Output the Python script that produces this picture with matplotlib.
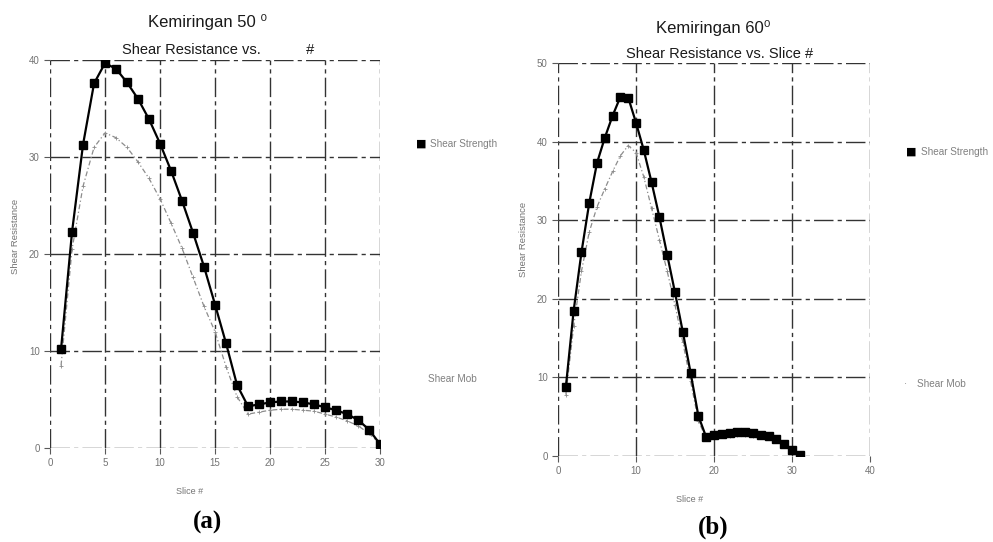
import matplotlib
matplotlib.use("Agg")
import matplotlib.pyplot as plt
import numpy as np

# Slope 50 degrees
slices_a = list(range(1, 31))
strength_a = [10.2, 22.3, 31.3, 37.6, 39.7, 39.1, 37.7, 36.0, 33.9, 31.4,
              28.6, 25.5, 22.2, 18.7, 14.8, 10.8, 6.5, 4.3, 4.5, 4.7,
              4.8, 4.8, 4.7, 4.5, 4.2, 3.9, 3.5, 2.9, 1.9, 0.4]
mob_a = [8.5, 20.5, 27.0, 31.0, 32.5, 32.0, 31.0, 29.5, 27.8, 25.7,
         23.2, 20.6, 17.6, 14.6, 12.0, 8.4, 5.3, 3.5, 3.7, 3.9,
         4.0, 4.0, 3.9, 3.8, 3.5, 3.2, 2.8, 2.3, 1.5, 0.4]

# Slope 60 degrees
slices_b = list(range(1, 32))
strength_b = [8.8, 18.5, 25.9, 32.2, 37.3, 40.5, 43.3, 45.7, 45.6, 42.4,
              38.9, 34.8, 30.4, 25.6, 20.8, 15.8, 10.6, 5.1, 2.4, 2.7,
              2.8, 2.9, 3.0, 3.0, 2.9, 2.7, 2.5, 2.1, 1.5, 0.8, 0.1]
mob_b = [7.8, 16.5, 23.5, 28.5, 31.7, 34.0, 36.2, 38.2, 39.5, 38.6,
         35.5, 31.5, 27.5, 23.5, 19.2, 14.5, 9.5, 4.5, 2.2, 2.4,
         2.5, 2.6, 2.7, 2.7, 2.6, 2.5, 2.3, 1.9, 1.4, 0.7, 0.1]

xticks_a = [0, 5, 10, 15, 20, 25, 30]
yticks_a = [0, 10, 20, 30, 40]
xticks_b = [0, 10, 20, 30, 40]
yticks_b = [0, 10, 20, 30, 40, 50]

plt.rcParams["font.family"] = ["Liberation Sans", "DejaVu Sans"]

fig = plt.figure(figsize=(9.93, 5.42), dpi=100)
fig.patch.set_facecolor("white")

W, H = 993.0, 542.0


def px(x, y):
    return x / W, 1 - y / H


def draw_panel(rect, xs, strength, mob, xt, yt, xlim, ylim):
    ax = fig.add_axes(rect)
    ax.set_xlim(*xlim)
    ax.set_ylim(*ylim)
    for s in ax.spines.values():
        s.set_visible(False)
    ax.set_xticks(xt)
    ax.set_yticks(yt)
    ax.tick_params(axis="both", labelsize=7, labelcolor="0.45",
                   color="0.35", length=4, width=0.8)
    ax.grid(True, color="0.2", linewidth=1.0,
            linestyle=(0, (14, 3, 3, 3)))
    ax.set_axisbelow(True)
    ax.plot(xs, mob, color="0.55", linewidth=0.9,
            linestyle=(0, (4, 2, 1, 2)), marker="+", markersize=3.5,
            markeredgewidth=0.6, zorder=3)
    ax.plot(xs, strength, color="black", linewidth=1.6, marker="s",
            markersize=5.5, zorder=4)
    return ax


ax_a = draw_panel([0.0504, 0.1734, 0.3323, 0.7156], slices_a, strength_a,
                  mob_a, xticks_a, yticks_a, (0, 30), (0, 40))
ax_b = draw_panel([0.562, 0.1587, 0.314, 0.7251], slices_b, strength_b,
                  mob_b, xticks_b, yticks_b, (0, 40), (0, 50))

# Titles
fig.text(*px(208, 22), "Kemiringan 50 \u2070", ha="center",
         va="center", fontsize=12, color="0.1")
fig.text(*px(218, 50), "Shear Resistance vs.           #",
         ha="center", va="center", fontsize=10.5, color="0.1")
fig.text(*px(713, 28), "Kemiringan 60\u2070", ha="center",
         va="center", fontsize=12, color="0.1")
fig.text(*px(720, 54), "Shear Resistance vs. Slice #",
         ha="center", va="center", fontsize=10.5, color="0.1")

# Axis labels
fig.text(*px(16, 236), "Shear Resistance", rotation=90,
         ha="center", va="center", fontsize=6.8, color="0.45")
fig.text(*px(190, 492), "Slice #", ha="center", va="center",
         fontsize=6.5, color="0.45")
fig.text(*px(524, 239), "Shear Resistance", rotation=90,
         ha="center", va="center", fontsize=6.8, color="0.45")
fig.text(*px(690, 500), "Slice #", ha="center", va="center",
         fontsize=6.5, color="0.45")

# Legends placed outside the plotting areas
fig.text(*px(421, 144), "\u25a0", ha="center", va="center",
         fontsize=8, color="black", family="DejaVu Sans")
fig.text(*px(430, 144), "Shear Strength", ha="left",
         va="center", fontsize=7.2, color="0.5")
fig.text(*px(428, 379), "Shear Mob", ha="left", va="center",
         fontsize=7.2, color="0.5")
fig.text(*px(911, 152), "\u25a0", ha="center", va="center",
         fontsize=8, color="black", family="DejaVu Sans")
fig.text(*px(921, 152), "Shear Strength", ha="left",
         va="center", fontsize=7.2, color="0.5")
fig.text(*px(905, 384), "\u00b7", ha="center", va="center",
         fontsize=7, color="0.5")
fig.text(*px(917, 384), "Shear Mob", ha="left", va="center",
         fontsize=7.2, color="0.5")

# Panel labels
fig.text(*px(208, 522), "(a)", ha="center", va="center",
         fontsize=18, fontweight="bold", family="Liberation Serif")
fig.text(*px(713, 527), "(b)", ha="center", va="center",
         fontsize=18, fontweight="bold", family="Liberation Serif")

fig.savefig("out.png", dpi=100, facecolor="white")
